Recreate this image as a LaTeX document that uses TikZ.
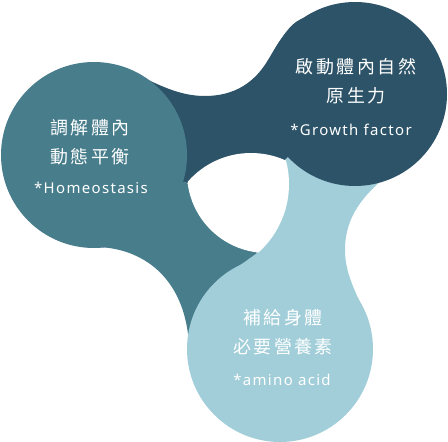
\documentclass[tikz,border=0pt]{standalone}
\usepackage{fontspec}
\usepackage{tikz}
\setmainfont{Noto Sans}
\newfontfamily\cjkfont{Noto Sans CJK TC}[LetterSpace=14]
\newfontfamily\latinfont{Noto Sans}[LetterSpace=9]
\definecolor{tealball}{RGB}{72,125,140}
\definecolor{deepball}{RGB}{45,83,104}
\definecolor{paleball}{RGB}{161,206,217}

\begin{document}
\begin{tikzpicture}[
    x=1bp, y=-1bp,
    every node/.style={inner sep=0pt, text=white, align=center},
    title/.style={font=\cjkfont\fontsize{18}{29}\selectfont},
    term/.style={font=\latinfont\fontsize{15}{18}\selectfont}
]
\useasboundingbox (0,0) rectangle (448,442);

\fill[deepball] (94,155) -- (128,70) .. controls (160,86) and (180,96) .. (205,96) .. controls (235,96) and (255,82) .. (268,60) .. controls (283,35) and (292,20) .. (307,17) -- (355,94) -- (285,160) -- (187,183) -- cycle;
\fill[paleball] (355,94) -- (385,177) .. controls (365,195) and (345,215) .. (345,250) .. controls (345,280) and (362,300) .. (369,327) -- (280,349) -- (236,268) -- (257,253) -- (285,160) -- cycle;
\fill[tealball] (280,349) -- (189,345) .. controls (185,275) and (140,248) .. (97,247) -- (94,155) -- (187,183) -- (257,253) -- (236,268) -- cycle;

\begin{scope}
\clip (251,237) circle (84bp);
\clip (267,173) circle (80bp);
\fill[white] (197,184) circle (92bp);
\end{scope}

\fill[tealball] (94,155) circle (93bp);
\fill[deepball] (355,94) circle (92bp);
\fill[paleball] (280,349) circle (93bp);

\node[title] (homeo) at (90,142) {調解體內\\動態平衡};
\node[term] (homeoen) at (91,188) {*Homeostasis};
\node[title] (growth) at (356,81) {啟動體內自然\\原生力};
\node[term] (growthen) at (351,130) {*Growth factor};
\node[title] (amino) at (283,332) {補給身體\\必要營養素};
\node[term] (aminoen) at (282,380) {*amino acid};

\end{tikzpicture}
\end{document}
